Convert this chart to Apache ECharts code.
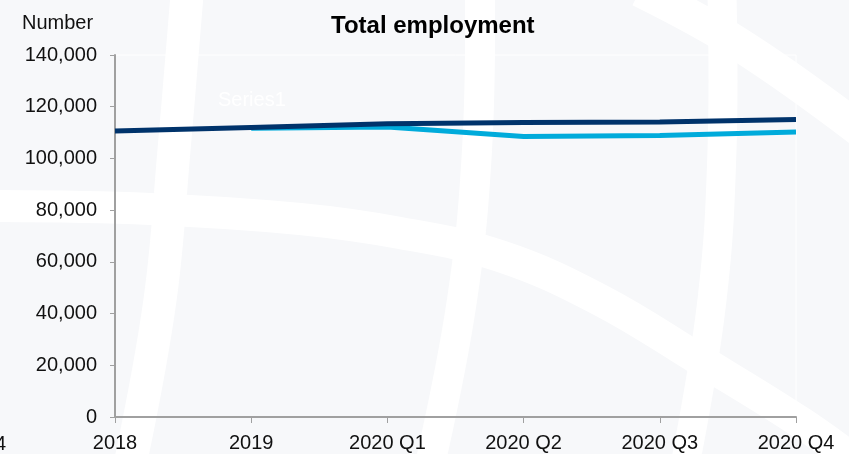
<!DOCTYPE html>
<html>
<head>
<meta charset="utf-8">
<script src="https://cdn.jsdelivr.net/npm/echarts@6/dist/echarts.min.js"></script>
<style>
  html, body { margin: 0; padding: 0; background: #f7f8fa; }
  #chart { width: 849px; height: 454px; }
</style>
</head>
<body>
<div id="chart"></div>
<script>
const categories = ['2018', '2019', '2020 Q1', '2020 Q2', '2020 Q3', '2020 Q4']
const totalEmployment = [110600, 112000, 113400, 113900, 114100, 115100]
const seriesOne = [null, 111700, 112200, 108500, 108900, 110200]
const yTicks = { min: 0, max: 140000, interval: 20000 }

const chart = echarts.init(document.getElementById('chart'))

const font = 'Liberation Sans'

// white decorative bands behind the chart
const band = (points, width) => ({
  type: 'polyline',
  z: -10,
  shape: { points: points, smooth: 0.4 },
  style: { stroke: '#ffffff', lineWidth: width, fill: null }
})

const option = {
  backgroundColor: '#f7f8fa',
  animation: false,
  graphic: [
    band([[187, -5], [174, 150], [160, 300], [131, 460]], 33),
    band([[480, -5], [477, 150], [462, 300], [431, 460]], 30),
    band([[722, -5], [722, 150], [712, 300], [686, 460]], 29),
    band([[640, -10], [740, 45], [860, 130]], 34),
    band([[-10, 206], [150, 209], [300, 219], [400, 233], [500, 256], [600, 300], [700, 360], [800, 422], [860, 465]], 32),
    {
      type: 'text', left: 22, top: 13,
      style: { text: 'Number', font: '20px "Liberation Sans"', fill: '#111' }
    },
    {
      type: 'text', left: 218, top: 90,
      style: { text: 'Series1', font: '20px "Liberation Sans"', fill: '#ffffff' }
    },
    {
      type: 'text', left: -5, top: 434,
      style: { text: '4', font: '20px "Liberation Sans"', fill: '#111' }
    }
  ],
  title: {
    text: 'Total employment',
    left: 326,
    top: 9,
    textStyle: { fontFamily: font, fontSize: 24, fontWeight: 'bold', color: '#000' }
  },
  grid: {
    left: 115,
    right: 53,
    top: 55,
    bottom: 37,
    show: true,
    backgroundColor: 'transparent',
    borderColor: '#ffffff',
    borderWidth: 1
  },
  xAxis: {
    type: 'category',
    data: categories,
    boundaryGap: false,
    axisLine: { lineStyle: { color: '#a0a0a0', width: 2 } },
    axisTick: { show: true, length: 6, lineStyle: { color: '#a0a0a0' } },
    axisLabel: { color: '#111', fontFamily: font, fontSize: 20, margin: 16, interval: 0 },
    splitLine: { show: false }
  },
  yAxis: {
    type: 'value',
    min: yTicks.min,
    max: yTicks.max,
    interval: yTicks.interval,
    axisLine: { show: true, lineStyle: { color: '#a0a0a0', width: 2 } },
    axisTick: { show: true, length: 5, lineStyle: { color: '#a0a0a0' } },
    axisLabel: {
      color: '#111', fontFamily: font, fontSize: 20, margin: 18,
      formatter: (v) => v.toLocaleString('en-US')
    },
    splitLine: { show: false }
  },
  series: [
    {
      name: 'Series1',
      type: 'line',
      data: seriesOne,
      showSymbol: false,
      symbol: 'none',
      lineStyle: { color: '#00abdb', width: 5 },
      z: 2
    },
    {
      name: 'Total employment',
      type: 'line',
      data: totalEmployment,
      showSymbol: false,
      symbol: 'none',
      lineStyle: { color: '#00336b', width: 5 },
      z: 3
    }
  ]
}

chart.setOption(option)
</script>
</body>
</html>
